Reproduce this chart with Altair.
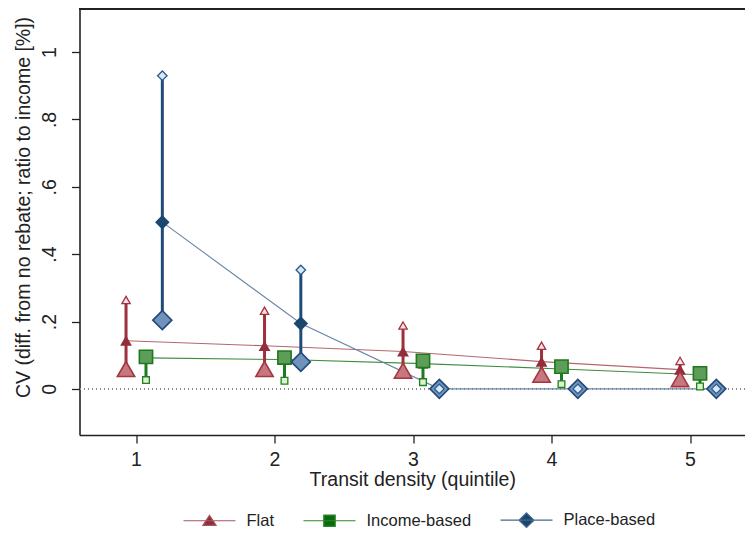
import altair as alt
import pandas as pd

# ---- data ----
quintiles = [1, 2, 3, 4, 5]
series_names = ["Flat", "Income-based", "Place-based"]
offsets = [-0.072, 0.072, 0.19]

flat_big = [0.059, 0.059, 0.054, 0.042, 0.029]
flat_mid = [0.143, 0.128, 0.111, 0.081, 0.057]
flat_hollow = [0.264, 0.232, 0.188, 0.128, 0.083]

inc_big = [0.095, 0.093, 0.083, 0.066, 0.046]
inc_mid = [0.092, 0.087, 0.075, 0.059, 0.042]
inc_hollow = [0.026, 0.024, 0.020, 0.014, 0.007]

place_big = [0.204, 0.080, 0.0, 0.0, 0.0]
place_mid = [0.495, 0.194, 0.0, 0.0, 0.0]
place_hollow = [0.930, 0.353, 0.0, 0.0, 0.0]

y_ticks = [0, 0.2, 0.4, 0.6, 0.8, 1]
y_min, y_max = -0.137, 1.128

rows = []
for s, off, bigs, mids, hols in zip(
    series_names, offsets,
    [flat_big, inc_big, place_big],
    [flat_mid, inc_mid, place_mid],
    [flat_hollow, inc_hollow, place_hollow],
):
    for q, b, m, h in zip(quintiles, bigs, mids, hols):
        rows.append({"series": s, "q": q, "x": q + off, "big": b, "mid": m, "hollow": h})
df = pd.DataFrame(rows)

# ---- styles ----
FONT = "Liberation Sans"
INK = "#222222"
shapes = {"Flat": "triangle-up", "Income-based": "square", "Place-based": "diamond"}
line_col = {"Flat": "#B4666F", "Income-based": "#3E8C3E", "Place-based": "#6A86A6"}
rule_col = {"Flat": "#9E2F3C", "Income-based": "#1E7A1E", "Place-based": "#1F4B78"}
mid_col = {"Flat": "#922D3A", "Income-based": "#176A17", "Place-based": "#1A476F"}
big_fill = {"Flat": "#C7787F", "Income-based": "#5E9C5A", "Place-based": "#7192BA"}
big_stroke = {"Flat": "#A43541", "Income-based": "#1C7A1C", "Place-based": "#1F4A7A"}
big_size = {"Flat": 300, "Income-based": 175, "Place-based": 361}
mid_size = {"Flat": 140, "Income-based": 100, "Place-based": 210}
hol_fill = {"Flat": "#FBE4E6", "Income-based": "#DDF3D0", "Place-based": "#D8EAFA"}
hol_stroke = {"Flat": "#A3323E", "Income-based": "#208020", "Place-based": "#2A5A8A"}
hol_size = {"Flat": 70, "Income-based": 45, "Place-based": 90}

x_scale = alt.Scale(domain=[0.592, 5.397], nice=False, zero=False)
y_scale = alt.Scale(domain=[y_min, y_max], nice=False, zero=False)

x_axis = alt.Axis(
    values=quintiles, format="d", title="Transit density (quintile)", grid=False,
    tickSize=8, labelPadding=7, labelFontSize=19.5, titleFontSize=19.5,
    titlePadding=2, domainWidth=1.6, tickWidth=1.3,
)
y_axis = alt.Axis(
    values=y_ticks, title="CV (diff. from no rebate; ratio to income [%])", grid=False,
    labelExpr="datum.value == 0 ? '0' : datum.value == 1 ? '1' : '.' + round(datum.value * 10)",
    tickSize=8, labelPadding=16, labelAngle=270, labelAlign="center", labelBaseline="alphabetic",
    labelFontSize=19.5, titleFontSize=19.5, titlePadding=6, titleY=198,
    domainWidth=1.6, tickWidth=1.3,
)

X = alt.X("x:Q", scale=x_scale, axis=x_axis)


def Y(field):
    return alt.Y(f"{field}:Q", scale=y_scale, axis=y_axis)


zero = alt.Chart(df).mark_rule(color="#8A8A8A", strokeWidth=1.2, strokeDash=[1, 3]).encode(
    y=alt.datum(0, scale=y_scale)
)
# top frame line of the plot region (at the upper end of the y range)
top_frame = alt.Chart(df).mark_rule(color=INK, strokeWidth=1.6).encode(
    y=alt.datum(y_max, scale=y_scale)
)

lines, rules, mids, bigs, hols = [], [], [], [], []
for s in series_names:
    base = alt.Chart(df).transform_filter(alt.datum.series == s)
    lines.append(base.mark_line(color=line_col[s], strokeWidth=1.1).encode(x=X, y=Y("mid")))
    rules.append(base.mark_rule(color=rule_col[s], strokeWidth=3).encode(x=X, y=Y("big"), y2="hollow:Q"))
    mids.append(base.mark_point(shape=shapes[s], filled=True, opacity=1, size=mid_size[s],
                                color=mid_col[s]).encode(x=X, y=Y("mid")))
    bigs.append(base.mark_point(shape=shapes[s], filled=True, opacity=1, size=big_size[s],
                                fill=big_fill[s], stroke=big_stroke[s], strokeWidth=1.6).encode(x=X, y=Y("big")))
    hols.append(base.mark_point(shape=shapes[s], filled=True, opacity=1, size=hol_size[s],
                                fill=hol_fill[s], stroke=hol_stroke[s], strokeWidth=1.3).encode(x=X, y=Y("hollow")))

# legend-only layer (points placed below the visible domain and clipped)
legend_paths = [
    "M-1,0H1M0,-0.21L0.255,0.18L-0.255,0.18Z",
    "M-1,0H1M-0.22,-0.22H0.22V0.22H-0.22Z",
    "M-1,0H1M0,-0.28L0.29,0L0,0.28L-0.29,0Z",
]
legend_fill = ["#8F2D3B", "#0B6B0B", "#1A476F"]
legend_stroke = ["#A85560", "#2F862F", "#47698F"]
legend_df = pd.DataFrame({"series": series_names, "x": [1, 2, 3], "y": [-5, -5, -5]})
leg_kw = dict(
    title=None, orient="none", legendX=103, legendY=484, direction="horizontal",
    symbolSize=2704, symbolStrokeWidth=1.2, labelFontSize=16.5, labelOffset=10,
    columnPadding=26, padding=0, labelFont=FONT, labelColor=INK,
)
legend_layer = alt.Chart(legend_df).mark_point(filled=True, opacity=1, clip=True, size=2704, strokeWidth=1.2).encode(
    x=X,
    y=alt.Y("y:Q", scale=y_scale, axis=y_axis),
    shape=alt.Shape("series:N", scale=alt.Scale(domain=series_names, range=legend_paths), legend=alt.Legend(**leg_kw)),
    fill=alt.Fill("series:N", scale=alt.Scale(domain=series_names, range=legend_fill), legend=alt.Legend(**leg_kw)),
    stroke=alt.Stroke("series:N", scale=alt.Scale(domain=series_names, range=legend_stroke), legend=alt.Legend(**leg_kw)),
)

chart = alt.layer(zero, top_frame, *lines, *rules, *mids, *bigs, *hols, legend_layer).properties(
    width=665.5, height=426,
    autosize=alt.AutoSizeParams(type="none"),
    padding={"left": 71.5, "top": 1, "right": 0, "bottom": 98},
    background="white",
).configure_view(stroke=None).configure_axis(
    labelFont=FONT, titleFont=FONT, labelColor=INK, titleColor=INK,
    domainColor=INK, tickColor=INK, titleFontWeight="normal",
)

chart.save("out.html", embed_options={"renderer": "svg", "actions": False})
